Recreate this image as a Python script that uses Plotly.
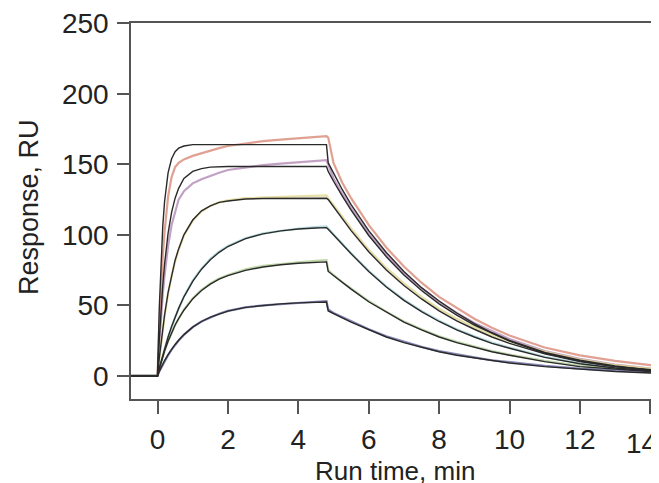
import plotly.graph_objects as go

# Run time (min)
time_min = [-0.75, -0.05, 0, 0.05, 0.1, 0.15, 0.2, 0.3, 0.4, 0.5, 0.6, 0.75, 1.0, 1.25, 1.5, 1.75,
            2.0, 2.5, 3.0, 3.5, 4.0, 4.5, 4.8, 4.85, 5.0, 5.25, 5.5, 6.0, 6.5, 7.0, 7.5, 8.0,
            8.5, 9.0, 9.5, 10.0, 11.0, 12.0, 13.0, 14.0, 14.6]

# Measured responses (RU), highest to lowest concentration
data_red = [0, 0, 0, 35, 62, 85, 102, 127, 141, 148, 151, 153.5, 156, 158, 160, 161.5, 163, 165, 166.5,
            167.5, 168.5, 169.5, 170, 169, 151, 137, 126, 107, 91, 77.5, 66, 56, 48, 40.5, 34, 28.5,
            20, 14.5, 10.5, 7.5, 6.5]
data_purple = [0, 0, 0, 22, 42, 58, 71, 92, 107, 117, 125, 131, 136.5, 139.5, 142, 144, 146, 148, 149.5,
               150.5, 151.5, 152.5, 153, 150, 140, 129, 119, 101, 86, 73, 62, 52.5, 44.5, 37.5, 31.5,
               26, 17.5, 12, 8, 5, 4]
data_yellow = [0, 0, 0, 12, 23, 33, 42, 58, 71, 81, 89.5, 99.5, 110, 116.5, 120.5, 123, 124.5, 126, 126.5,
               127, 127.5, 127.5, 128, 126, 121, 112.5, 104.5, 89.5, 76.5, 65.5, 56, 47.5, 40.5, 34.5,
               29, 24.5, 17, 11.5, 7.5, 5, 4]
data_cyan = [0, 0, 0, 5, 10, 14.5, 19, 27, 34.5, 41.5, 47.5, 56, 67.5, 76, 83, 88, 92, 97.5, 101, 103,
             104.5, 105.5, 106, 104.5, 100.5, 93.5, 87, 74.5, 63.5, 54, 46, 39, 33, 28, 23.5, 20, 13.5,
             9, 6, 4, 3]
data_green = [0, 0, 0, 5, 9.5, 13.5, 17.5, 24.5, 30.5, 36, 40.5, 47, 55, 61, 65.5, 69, 71.5, 75.5, 78,
              79.5, 80.5, 81.5, 82, 75, 71.5, 66.5, 62, 53, 45.5, 38.5, 33, 28, 24, 20.5, 17.5, 15,
              10.5, 7, 5, 3.5, 3]
data_blue = [0, 0, 0, 3, 5.5, 8, 10.5, 14.5, 18.5, 22, 25, 29, 34.5, 38.5, 41.5, 44, 46, 48.5, 50, 51,
             52, 52.5, 53, 47, 44.5, 41.5, 38.5, 33, 28, 24, 20.5, 17.5, 15, 13, 11, 9.5, 7, 5, 3.5,
             2.5, 2]

# Fitted curves (RU)
fit_red = [0, 0, 0, 48, 82.5, 106.5, 123.5, 144, 154, 159, 161.5, 163, 164, 164, 164, 164, 164, 164, 164,
           164, 164, 164, 164, 151, 143.5, 132, 121.5, 103, 87.5, 74, 62.5, 53, 44.5, 37, 30.5, 25,
           16.5, 11, 7, 4, 3]
fit_purple = [0, 0, 0, 25.5, 47, 64.5, 79, 101, 116, 126, 133, 140, 145, 147, 148, 148.3, 148.5, 148.5,
              148.5, 148.5, 148.5, 148.5, 148.5, 145, 138, 127.5, 117.5, 99.5, 84.5, 71.5, 60.5, 51,
              43, 36, 30, 24.5, 16, 10.5, 6.5, 4, 3]
fit_yellow = [0, 0, 0, 12.5, 24, 34, 43, 59, 71.5, 82, 90, 100, 110.5, 117, 120.5, 123, 124, 125.4,
              125.8, 126, 126, 126, 126, 125, 120, 111, 103, 88, 75, 64, 54.5, 46, 39, 33, 27.5, 23,
              15.5, 10, 6.5, 4, 3]
fit_cyan = [0, 0, 0, 5.2, 10, 14.8, 19.2, 27.5, 35, 41.7, 47.8, 56, 67, 75.6, 82.3, 87.6, 91.7, 97.3,
            100.7, 102.8, 104.1, 104.8, 105.1, 104, 100, 93, 86.5, 74, 63, 53.5, 45.5, 38.5, 32.5,
            27.5, 23, 19.5, 13, 8.5, 5.5, 3.5, 2.5]
fit_green = [0, 0, 0, 5, 9.5, 13.5, 17.5, 24.5, 30.5, 36, 40.5, 46.5, 54.5, 60.5, 65, 68.5, 71, 74.8,
             77.2, 78.8, 79.8, 80.5, 80.8, 74, 71, 66, 61.5, 52.5, 45, 38, 32.5, 27.5, 23.5, 20, 17,
             14.5, 10, 6.5, 4.5, 3, 2.5]
fit_blue = [0, 0, 0, 3, 5.8, 8.4, 10.8, 15, 18.8, 22.2, 25.2, 29.2, 34.5, 38.5, 41.6, 44, 45.9, 48.5,
            50, 51, 51.7, 52.1, 52.3, 46, 44, 41, 38, 32.5, 27.5, 23.5, 20, 17, 14.5, 12.5, 10.5, 9,
            6.5, 4.5, 3, 2, 1.5]

y_ticks = [0, 50, 100, 150, 200, 250]
x_ticks = [0, 2, 4, 6, 8, 10, 12, 14]
x_tick_labels = ["0", "2", "4", "6", "8", "10", "12", "14"]

data_series = [data_red, data_purple, data_yellow, data_cyan, data_green, data_blue]
data_colors = ["#d98a78", "#b38ab6", "#e2d892", "#a4d2d6", "#b0cc94", "#6868a6"]
fit_series = [fit_red, fit_purple, fit_yellow, fit_cyan, fit_green, fit_blue]

fig = go.Figure()
for ys, col in zip(data_series, data_colors):
    fig.add_trace(go.Scatter(x=time_min, y=ys, mode="lines",
                             line=dict(color=col, width=2.2), opacity=0.8,
                             hoverinfo="skip", showlegend=False))
for ys in fit_series:
    fig.add_trace(go.Scatter(x=time_min, y=ys, mode="lines",
                             line=dict(color="#2a2a2a", width=1.4),
                             showlegend=False))

# The last tick label sits at the window edge; it is drawn as an annotation nudged inward
# so that it stays fully visible, as in the reference.
shown_tick_text = x_tick_labels[:-1] + [""]
edge_label = dict(text=x_tick_labels[-1], x=x_ticks[-1], xref="x", y=-(443 - 399) / 376,
                  yref="paper", xanchor="center", yanchor="middle", xshift=-9,
                  showarrow=False, font=dict(size=28))

# The page body keeps its default 8 px margin, so the figure is sized to end at the window edge.
font_family = "Liberation Sans, Arial, Helvetica, sans-serif"
axis_common = dict(ticks="outside", tickwidth=1.5, tickcolor="#555555", showline=True,
                   linecolor="#555555", linewidth=1.5, showgrid=False, zeroline=False,
                   automargin=False, tickfont=dict(size=28), ticklabeloverflow="allow")
fig.update_layout(
    width=651, height=475,
    margin=dict(l=123, r=0, t=15, b=84, autoexpand=False),
    paper_bgcolor="white", plot_bgcolor="white",
    font=dict(family=font_family, size=28, color="#222222"),
    xaxis=dict(range=[-0.753, 14.247], tickvals=x_ticks, ticktext=shown_tick_text, ticklen=13,
               mirror=True, ticklabelstandoff=2, **axis_common),
    yaxis=dict(range=[-16.5, 250.3], tickvals=y_ticks, ticklen=12,
               ticklabelstandoff=3, **axis_common),
    annotations=[
        dict(text="Run time, min", x=0.5, y=-(488 - 399) / 376, xref="paper", yref="paper",
             xanchor="center", yanchor="bottom", showarrow=False, font=dict(size=26)),
        dict(text="Response, RU", x=-(131 - 29) / 528, y=(399 - 207) / 376, xref="paper",
             yref="paper", xanchor="center", yanchor="middle", textangle=-90,
             showarrow=False, font=dict(size=27)),
        edge_label,
    ],
)

fig.write_html("out.html")
